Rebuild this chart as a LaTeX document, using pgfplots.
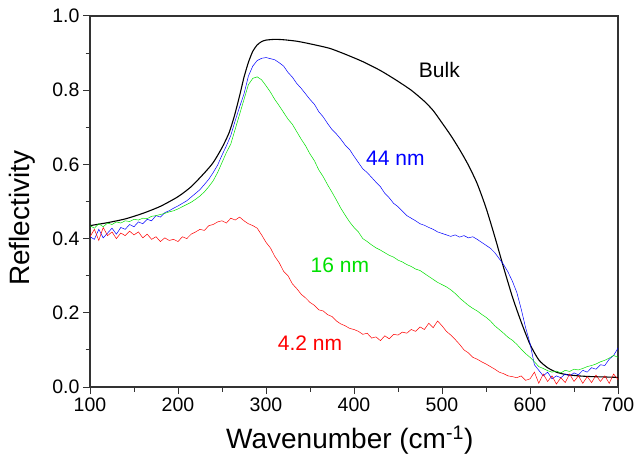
\documentclass[border=0pt]{standalone}
\usepackage{pgfplots}
\pgfplotsset{compat=1.18}
\usepackage{fontspec}
\setmainfont{Liberation Sans}
\definecolor{axgray}{rgb}{0.2,0.2,0.2}
\definecolor{mygreen}{rgb}{0,0.88,0}
\begin{document}
\begin{tikzpicture}
\begin{axis}[
  width=528pt, height=371pt, scale only axis,
  xmin=100, xmax=700, ymin=0, ymax=1.0,
  xtick={100,200,...,700},
  minor xtick={150,250,...,650},
  ytick={0,0.2,...,1.0},
  minor ytick={0.1,0.3,...,0.9},
  tick pos=left,
  tick align=outside,
  major tick length=7pt,
  minor tick length=4.5pt,
  every tick/.style={axgray, line width=1pt},
  axis line style={axgray, line width=1.2pt},
  /pgf/number format/assume math mode=true,
  yticklabel style={/pgf/number format/fixed, /pgf/number format/fixed zerofill, /pgf/number format/precision=1},
  tick label style={font=\fontsize{19.5}{20}\selectfont},
  xlabel={Wavenumber (cm\textsuperscript{-1})},
  ylabel={Reflectivity},
  label style={font=\fontsize{28}{30}\selectfont},
  xlabel style={at={(axis description cs:0.492,-0.143)}, anchor=center},
  ylabel style={at={(axis description cs:-0.129,0.455)}, anchor=center, rotate=0},
  clip=true,
]
\addplot[black, line width=1.1pt, smooth, tension=0.4] coordinates {
(100,0.435)(120,0.443)(140,0.453)(160,0.468)(180,0.487)(200,0.513)(215,0.54)(230,0.577)(240,0.605)(250,0.645)(258,0.685)(264,0.73)(270,0.785)(275,0.835)(280,0.875)(285,0.905)(290,0.922)(295,0.931)(300,0.935)(310,0.937)(320,0.936)(335,0.932)(350,0.925)(372,0.913)(390,0.897)(410,0.877)(430,0.853)(448,0.827)(465,0.80)(480,0.77)(490,0.745)(500,0.712)(510,0.678)(520,0.640)(530,0.598)(540,0.548)(550,0.483)(560,0.405)(570,0.322)(580,0.243)(590,0.175)(600,0.115)(610,0.073)(620,0.052)(630,0.040)(640,0.034)(655,0.030)(670,0.028)(685,0.027)(700,0.026)
};
\addplot[blue, line width=0.5pt] coordinates {
(100,0.405)(105,0.398)(110,0.425)(115,0.402)(120,0.415)(125,0.428)(130,0.412)(135,0.430)(140,0.425)(145,0.438)(150,0.432)(155,0.445)(160,0.440)(165,0.452)(170,0.448)(175,0.462)(180,0.458)(185,0.470)(190,0.475)(195,0.482)(200,0.488)(205,0.495)(210,0.502)(215,0.512)(220,0.522)(225,0.532)(230,0.546)(235,0.560)(240,0.578)(245,0.598)(250,0.625)(255,0.650)(260,0.678)(265,0.718)(270,0.755)(275,0.790)(280,0.838)(285,0.865)(290,0.880)(295,0.886)(300,0.888)(305,0.885)(310,0.882)(315,0.874)(320,0.865)(325,0.848)(330,0.835)(335,0.818)(340,0.805)(345,0.790)(350,0.775)(355,0.762)(360,0.742)(365,0.728)(370,0.710)(375,0.694)(380,0.682)(385,0.668)(390,0.652)(395,0.640)(400,0.622)(405,0.605)(410,0.588)(415,0.578)(420,0.565)(425,0.552)(430,0.540)(435,0.522)(440,0.510)(445,0.495)(450,0.486)(455,0.474)(460,0.462)(465,0.455)(470,0.448)(475,0.440)(480,0.436)(485,0.430)(490,0.425)(495,0.418)(500,0.414)(505,0.410)(510,0.406)(515,0.410)(520,0.404)(525,0.408)(530,0.402)(535,0.405)(540,0.398)(545,0.390)(550,0.382)(555,0.374)(560,0.362)(565,0.346)(570,0.330)(575,0.310)(580,0.285)(585,0.255)(590,0.210)(595,0.160)(600,0.118)(605,0.060)(610,0.045)(615,0.030)(620,0.040)(625,0.022)(630,0.030)(635,0.025)(640,0.035)(645,0.030)(650,0.038)(655,0.033)(660,0.045)(665,0.040)(670,0.052)(675,0.048)(680,0.060)(685,0.058)(690,0.075)(695,0.085)(700,0.105)
};
\addplot[mygreen, line width=0.5pt] coordinates {
(100,0.435)(105,0.428)(110,0.440)(115,0.432)(120,0.442)(125,0.438)(130,0.445)(135,0.442)(140,0.448)(145,0.446)(150,0.452)(155,0.450)(160,0.455)(165,0.454)(170,0.460)(175,0.462)(180,0.465)(185,0.468)(190,0.472)(195,0.475)(200,0.480)(205,0.486)(210,0.492)(215,0.498)(220,0.506)(225,0.515)(230,0.526)(235,0.540)(240,0.556)(245,0.578)(250,0.605)(255,0.632)(260,0.655)(265,0.695)(270,0.735)(275,0.775)(280,0.815)(285,0.832)(290,0.836)(295,0.828)(300,0.812)(305,0.795)(310,0.775)(315,0.758)(320,0.740)(325,0.722)(330,0.708)(335,0.688)(340,0.668)(345,0.650)(350,0.628)(355,0.610)(360,0.585)(365,0.567)(370,0.545)(375,0.525)(380,0.504)(385,0.482)(390,0.463)(395,0.445)(400,0.430)(405,0.418)(410,0.400)(415,0.392)(420,0.383)(425,0.375)(430,0.369)(435,0.362)(440,0.355)(445,0.350)(450,0.342)(455,0.337)(460,0.330)(465,0.325)(470,0.318)(475,0.314)(480,0.306)(485,0.298)(490,0.290)(495,0.282)(500,0.276)(505,0.270)(510,0.262)(515,0.252)(520,0.240)(525,0.230)(530,0.220)(535,0.212)(540,0.205)(545,0.196)(550,0.188)(555,0.178)(560,0.165)(565,0.155)(570,0.145)(575,0.134)(580,0.126)(585,0.115)(590,0.102)(595,0.090)(600,0.080)(605,0.068)(610,0.055)(615,0.050)(620,0.044)(625,0.040)(630,0.043)(635,0.038)(640,0.045)(645,0.042)(650,0.048)(655,0.046)(660,0.050)(665,0.055)(670,0.058)(675,0.062)(680,0.068)(685,0.072)(690,0.078)(695,0.085)(700,0.080)
};
\addplot[red, line width=0.5pt] coordinates {
(100,0.405)(105,0.425)(110,0.395)(115,0.430)(120,0.408)(125,0.418)(130,0.400)(135,0.415)(140,0.408)(145,0.420)(150,0.410)(155,0.418)(160,0.402)(165,0.412)(170,0.398)(175,0.405)(180,0.392)(185,0.402)(190,0.395)(195,0.398)(200,0.392)(205,0.405)(210,0.400)(215,0.412)(220,0.418)(225,0.425)(230,0.422)(235,0.435)(240,0.438)(245,0.445)(250,0.448)(255,0.442)(260,0.455)(265,0.450)(270,0.458)(275,0.448)(280,0.440)(285,0.435)(290,0.428)(295,0.410)(300,0.390)(305,0.375)(310,0.352)(315,0.335)(320,0.312)(325,0.300)(330,0.278)(335,0.265)(340,0.250)(345,0.240)(350,0.228)(355,0.220)(360,0.208)(365,0.205)(370,0.195)(375,0.190)(380,0.178)(385,0.170)(390,0.165)(395,0.158)(400,0.155)(405,0.150)(410,0.142)(415,0.145)(420,0.132)(425,0.135)(430,0.125)(435,0.138)(440,0.130)(445,0.142)(450,0.140)(455,0.148)(460,0.145)(465,0.155)(470,0.150)(475,0.162)(480,0.155)(485,0.172)(490,0.160)(495,0.178)(500,0.165)(505,0.150)(510,0.140)(515,0.128)(520,0.115)(525,0.100)(530,0.092)(535,0.080)(540,0.075)(545,0.068)(550,0.062)(555,0.055)(560,0.048)(565,0.040)(570,0.036)(575,0.030)(580,0.028)(585,0.025)(590,0.030)(595,0.018)(600,0.022)(605,0.040)(610,0.010)(615,0.035)(620,0.015)(625,0.030)(630,0.008)(635,0.025)(640,0.012)(645,0.035)(650,0.015)(655,0.030)(660,0.010)(665,0.028)(670,0.012)(675,0.032)(680,0.015)(685,0.030)(690,0.010)(695,0.035)(700,0.020)
};
\node[font=\fontsize{21}{22}\selectfont, black] at (axis cs:497,0.854) {Bulk};
\node[font=\fontsize{21}{22}\selectfont, blue] at (axis cs:447,0.617) {44 nm};
\node[font=\fontsize{21}{22}\selectfont, mygreen] at (axis cs:384,0.329) {16 nm};
\node[font=\fontsize{21}{22}\selectfont, red] at (axis cs:350,0.119) {4.2 nm};
\end{axis}
\pgfresetboundingbox
\path[use as bounding box] ([shift={(-90pt,-76pt)}]current axis.south west) rectangle ([shift={(17pt,16pt)}]current axis.north east);
\end{tikzpicture}
\end{document}
